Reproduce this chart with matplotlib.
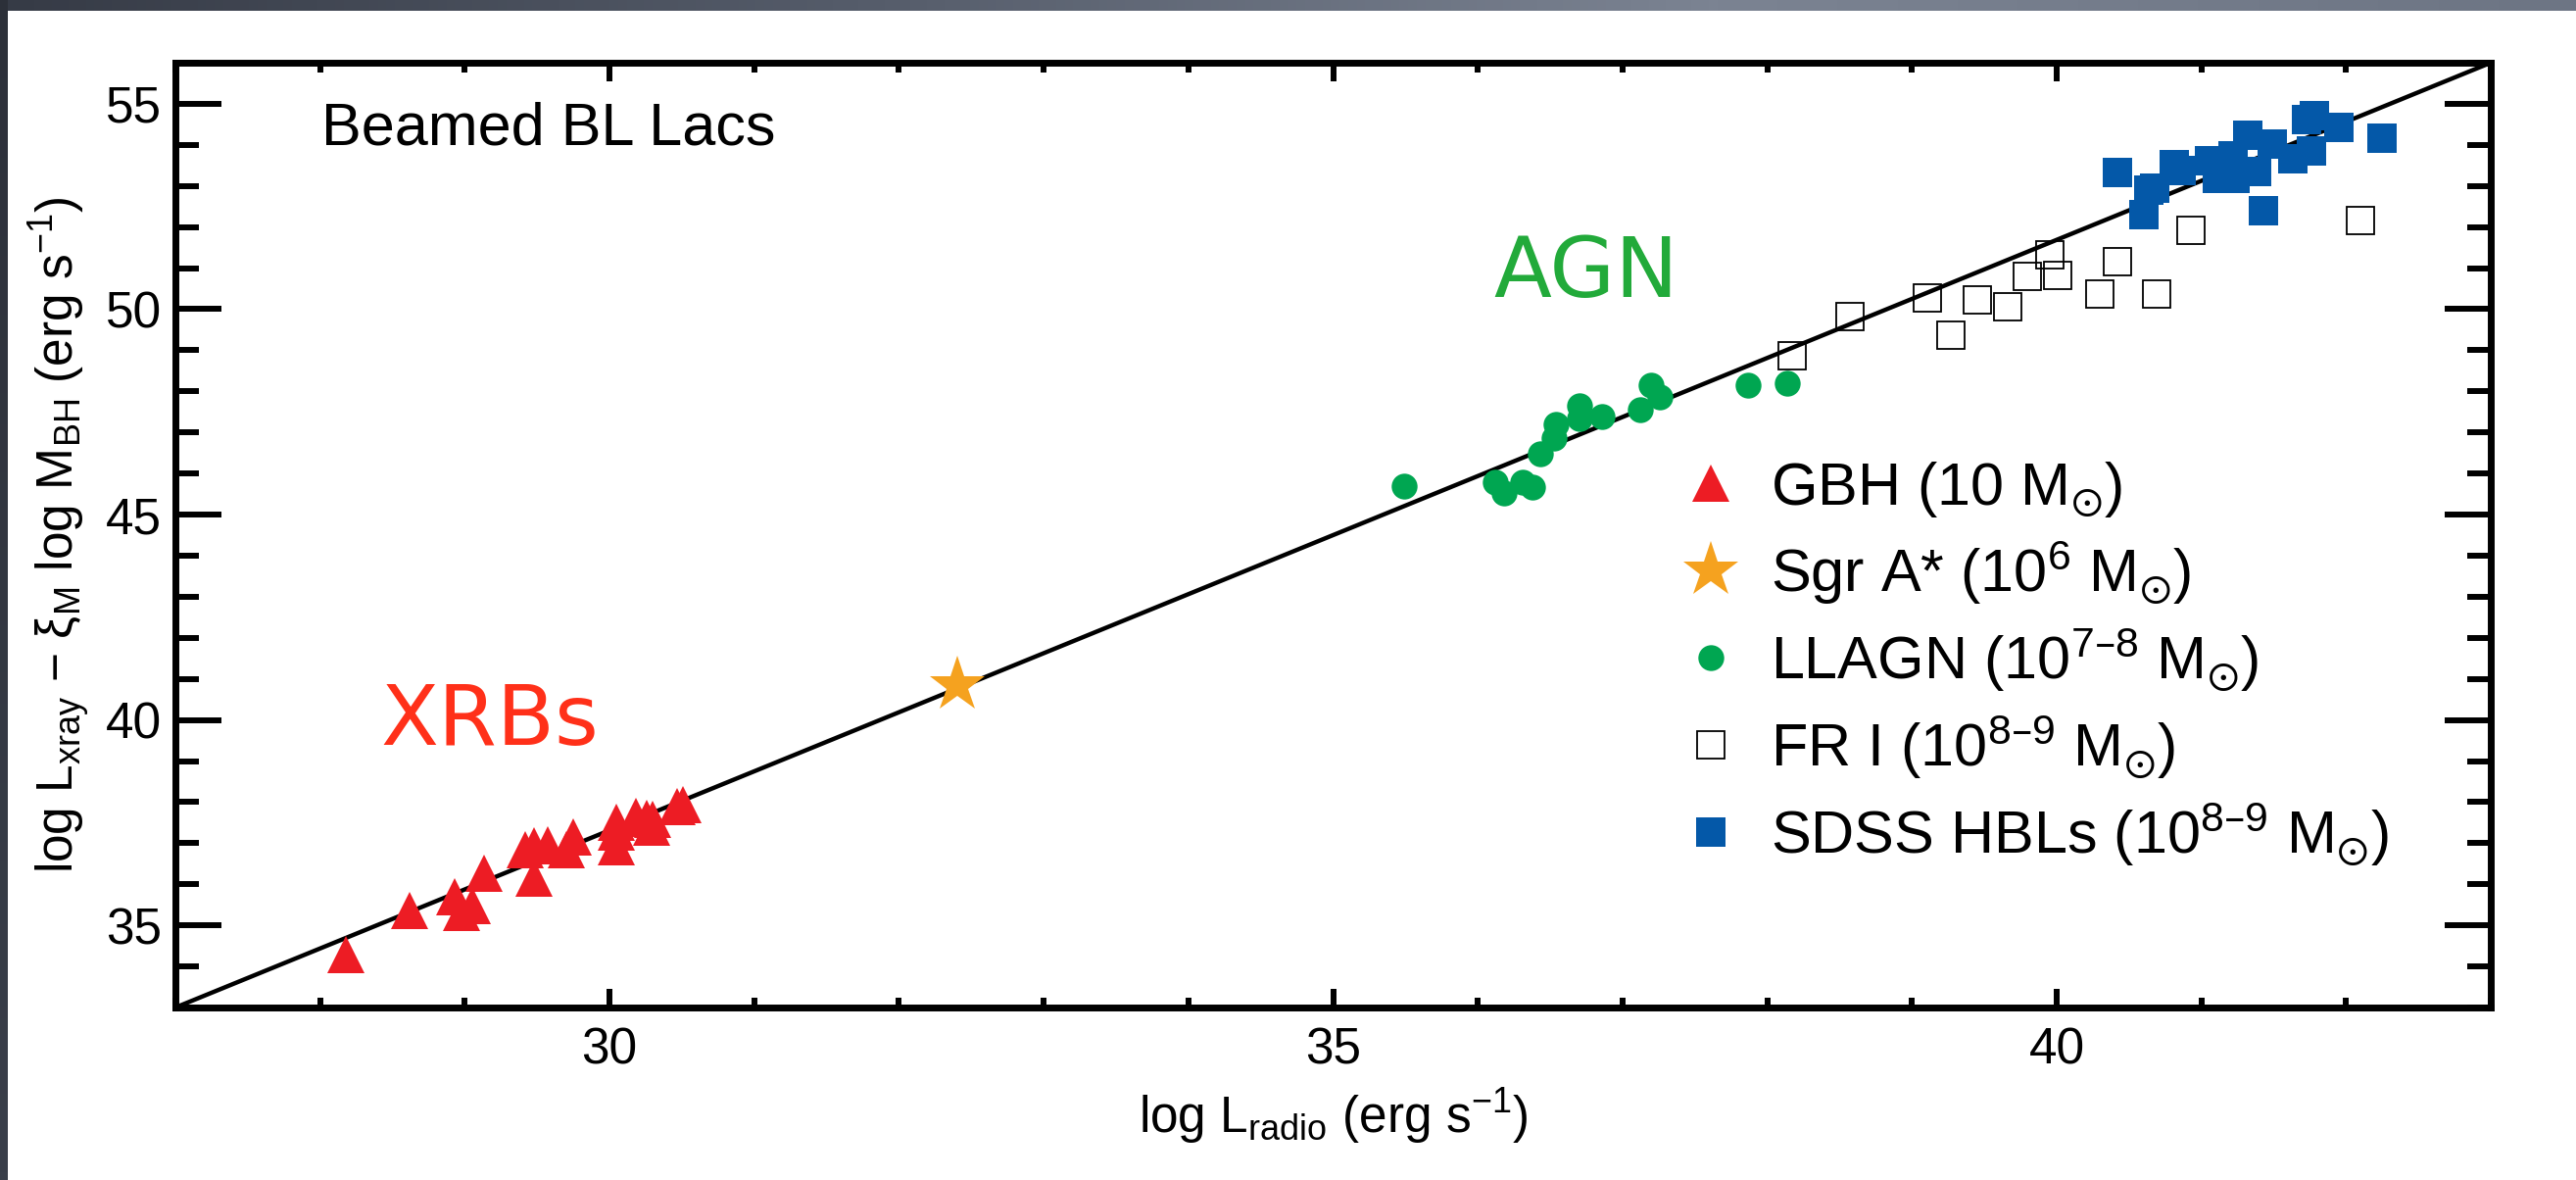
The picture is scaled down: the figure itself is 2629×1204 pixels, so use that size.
import numpy as np
import matplotlib
matplotlib.use("Agg")
import matplotlib.pyplot as plt
from matplotlib.ticker import MultipleLocator
from matplotlib.colors import LinearSegmentedColormap

plt.rcParams['font.family'] = ['Liberation Sans', 'DejaVu Sans']
plt.rcParams['mathtext.default'] = 'regular'

# XRBs (GBH, 10 Msun)
xrb_x = [28.18, 28.62, 28.93, 28.98, 29.05, 29.13, 29.42, 29.48, 29.48, 29.57, 29.70,
         29.75, 30.05, 30.05, 30.05, 30.18, 30.26, 30.30, 30.29, 30.47, 30.51]
xrb_y = [34.28, 35.37, 35.69, 35.32, 35.47, 36.27, 36.83, 36.93, 36.15, 36.96, 36.83,
         37.15, 37.50, 36.91, 37.27, 37.66, 37.60, 37.58, 37.38, 37.89, 37.94]

# Sgr A*
sgr_x = [32.40]
sgr_y = [40.85]

# LLAGN
llagn_x = [35.49, 36.12, 36.18, 36.31, 36.38, 36.43, 36.53, 36.54, 36.70, 36.70, 36.86,
           37.12, 37.20, 37.26, 37.87, 38.14]
llagn_y = [45.69, 45.79, 45.53, 45.79, 45.67, 46.47, 46.87, 47.19, 47.66, 47.35, 47.38,
           47.56, 48.14, 47.86, 48.16, 48.20]

# FR I
fri_x = [38.17, 38.57, 39.11, 39.27, 39.45, 39.66, 39.80, 39.95, 40.01, 40.30, 40.42,
         40.69, 40.93, 42.10]
fri_y = [48.86, 49.83, 50.27, 49.37, 50.22, 50.06, 50.80, 51.32, 50.82, 50.37, 51.16,
         50.37, 51.92, 52.16]

# SDSS HBLs
hbl_x = [40.42, 40.60, 40.64, 40.68, 40.81, 40.86, 41.06, 41.11, 41.23, 41.22, 41.32,
         41.38, 41.43, 41.49, 41.63, 41.73, 41.78, 41.76, 41.95, 42.25]
hbl_y = [53.33, 52.31, 52.91, 52.95, 53.52, 53.38, 53.61, 53.18, 53.18, 53.73, 54.24,
         53.35, 52.40, 54.03, 53.65, 54.62, 54.72, 53.86, 54.42, 54.16]

# fundamental plane line
fit_x = [27, 43]
fit_y = [33, 56]

labels = ['GBH (10 M$_{\\odot}$)',
          'Sgr A* (10$^{6}$ M$_{\\odot}$)',
          'LLAGN (10$^{7\u20138}$ M$_{\\odot}$)',
          'FR I (10$^{8\u20139}$ M$_{\\odot}$)',
          'SDSS HBLs (10$^{8\u20139}$ M$_{\\odot}$)']

fig = plt.figure(figsize=(26.29, 12.04), dpi=100)

# slide background edges
topband = fig.add_axes([0, 1 - 11/1204, 1, 11/1204])
topband.imshow(np.linspace(0, 1, 300)[None, :], aspect='auto',
               cmap=LinearSegmentedColormap.from_list('band', ['#363b46', '#555c6a', '#7b8392', '#6d7584']))
topband.axis('off')
leftband = fig.add_axes([0, 0, 8/2629, 1])
leftband.imshow(np.linspace(0, 1, 300)[:, None], aspect='auto',
                cmap=LinearSegmentedColormap.from_list('band2', ['#2c3039', '#3a3f4a']))
leftband.axis('off')

ax = fig.add_axes([179/2629, 1 - 1028/1204, (2542 - 179)/2629, (1028 - 64)/1204])

ax.plot(fit_x, fit_y, color='black', lw=3.2, zorder=2)

ax.plot(xrb_x, xrb_y, ls='none', marker='^', ms=27, color='#ed1c24', mew=0, label=labels[0], zorder=3)
ax.plot(sgr_x, sgr_y, ls='none', marker='*', ms=43, color='#f5a21f', mew=0, label=labels[1], zorder=3)
ax.plot(llagn_x, llagn_y, ls='none', marker='o', ms=19, color='#00a651', mew=0, label=labels[2], zorder=3)
ax.plot(fri_x, fri_y, ls='none', marker='s', ms=19.5, mfc='none', mec='black', mew=1.3, label=labels[3], zorder=3)
ax.plot(hbl_x, hbl_y, ls='none', marker='s', ms=21.5, color='#0458a8', mew=0, label=labels[4], zorder=3)

ax.set_xlim(27, 43)
ax.set_ylim(33, 56)
ax.xaxis.set_major_locator(MultipleLocator(5))
ax.xaxis.set_minor_locator(MultipleLocator(1))
ax.yaxis.set_major_locator(MultipleLocator(5))
ax.yaxis.set_minor_locator(MultipleLocator(1))

for sp in ax.spines.values():
    sp.set_linewidth(5)
ax.tick_params(which='both', direction='in', top=True, right=True, width=4.3, labelsize=37)
ax.tick_params(axis='y', which='major', length=34, pad=10)
ax.tick_params(axis='y', which='minor', length=17)
ax.tick_params(axis='x', which='major', length=14, pad=14)
ax.tick_params(axis='x', which='minor', length=7)

ax.set_xlabel('log L$_{radio}$ (erg s$^{-1}$)', fontsize=37, labelpad=9)
ax.set_ylabel('log L$_{xray}$ \u2212 \u03be$_{M}$ log M$_{BH}$ (erg s$^{-1}$)', fontsize=37, labelpad=9)

ax.text(0.063, 0.913, 'Beamed BL Lacs', transform=ax.transAxes, fontsize=44, va='baseline')
ax.text(28.42, 39.39, 'XRBs', color='#ff3019', fontsize=62, family='DejaVu Sans', va='baseline')
ax.text(36.11, 50.30, 'AGN', color='#22aa3a', fontsize=62, family='DejaVu Sans', va='baseline')

ax.legend(loc='upper left', bbox_to_anchor=(0.650, 0.58), frameon=False, fontsize=44,
          handlelength=1.0, handletextpad=0.5, labelspacing=0.32, borderpad=0,
          borderaxespad=0, numpoints=1)

fig.savefig('out.png', dpi=100)
